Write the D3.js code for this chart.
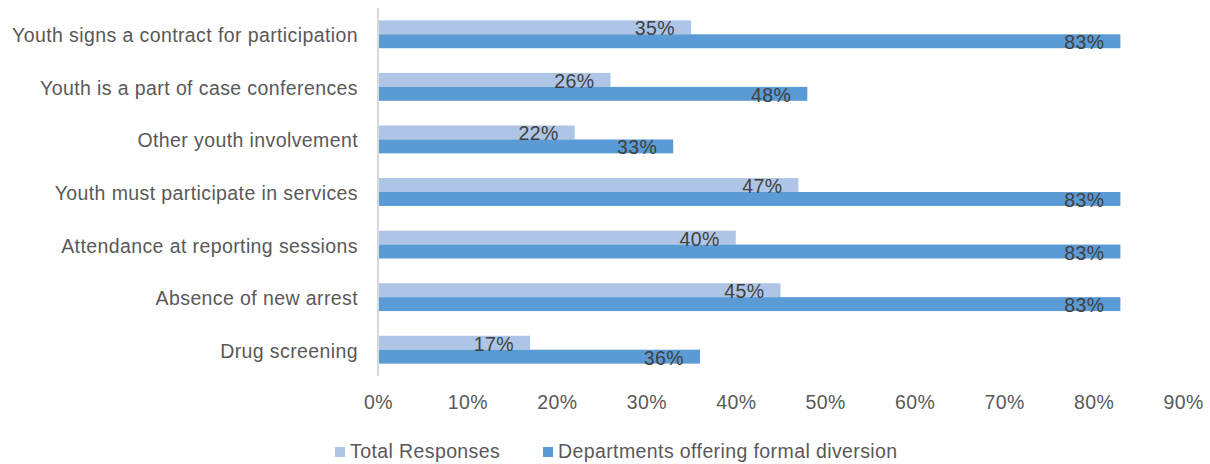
<!DOCTYPE html>
<html><head><meta charset="utf-8">
<script src="https://cdn.jsdelivr.net/npm/d3@7"></script>
<style>
body{margin:0;background:#fff;}
svg{display:block;font-family:"Liberation Sans",Arial,sans-serif;}
text{letter-spacing:0.4px;}
</style></head>
<body><svg id="c" width="1210" height="464"></svg>
<script>
const categories = ["Youth signs a contract for participation","Youth is a part of case conferences","Other youth involvement","Youth must participate in services","Attendance at reporting sessions","Absence of new arrest","Drug screening"];
const totalResponses = [35,26,22,47,40,45,17];
const formalDiversion = [83,48,33,83,83,83,36];
const seriesNames = ["Total Responses","Departments offering formal diversion"];
const tickValues = [0,10,20,30,40,50,60,70,80,90];
const colors = ["#aec5e6","#5b9bd5"];
const FS = 19.5;

const svg = d3.select("#c");
const x = d3.scaleLinear().domain([0,90]).range([378,1183]);
const y = d3.scaleBand().domain(categories).range([8,376]).paddingInner(0.47).paddingOuter(0.235);
const sub = d3.scaleBand().domain([0,1]).range([0,y.bandwidth()]);

const series = [totalResponses, formalDiversion];
series.forEach((vals,si)=>{
  const g = svg.append("g");
  g.selectAll("rect").data(categories).join("rect")
    .attr("x", x(0)).attr("y", (c)=>y(c)+sub(si))
    .attr("width", (c,i)=>x(vals[i])-x(0)).attr("height", sub.bandwidth())
    .attr("fill", colors[si]);
});
// axis line
svg.append("line").attr("x1",x(0)).attr("x2",x(0)).attr("y1",8).attr("y2",376)
  .attr("stroke","#d9d9d9").attr("stroke-width",2);
// labels
series.forEach((vals,si)=>{
  svg.append("g").selectAll("text").data(categories).join("text")
    .attr("x",(c,i)=>x(vals[i])-16).attr("y",(c)=>y(c)+sub(si)+sub.bandwidth()/2+8)
    .attr("text-anchor","end")
    .attr("font-size",FS).attr("fill","#404040")
    .text((c,i)=>vals[i]+"%");
});
// category labels
svg.append("g").selectAll("text").data(categories).join("text")
  .attr("x",358).attr("y",c=>y(c)+y.bandwidth()/2+8).attr("text-anchor","end")
  .attr("font-size",FS).attr("fill","#595959").text(c=>c);
// x axis
const ax = svg.append("g").attr("transform","translate(0,409)")
  .call(d3.axisBottom(x).tickValues(tickValues).tickFormat(d=>d+"%").tickSize(0).tickPadding(0));
ax.select(".domain").remove();
ax.selectAll("text").attr("font-size",FS).attr("fill","#595959").attr("font-family","Liberation Sans, Arial, sans-serif").attr("dy","0");
// legend
const leg = [{x:335,t:seriesNames[0],c:colors[0]},{x:543,t:seriesNames[1],c:colors[1]}];
leg.forEach(l=>{
  svg.append("rect").attr("x",l.x).attr("y",447).attr("width",10).attr("height",10).attr("fill",l.c);
  svg.append("text").attr("x",l.x+15).attr("y",458)
    .attr("font-size",FS).attr("fill","#595959").text(l.t);
});
</script></body></html>
